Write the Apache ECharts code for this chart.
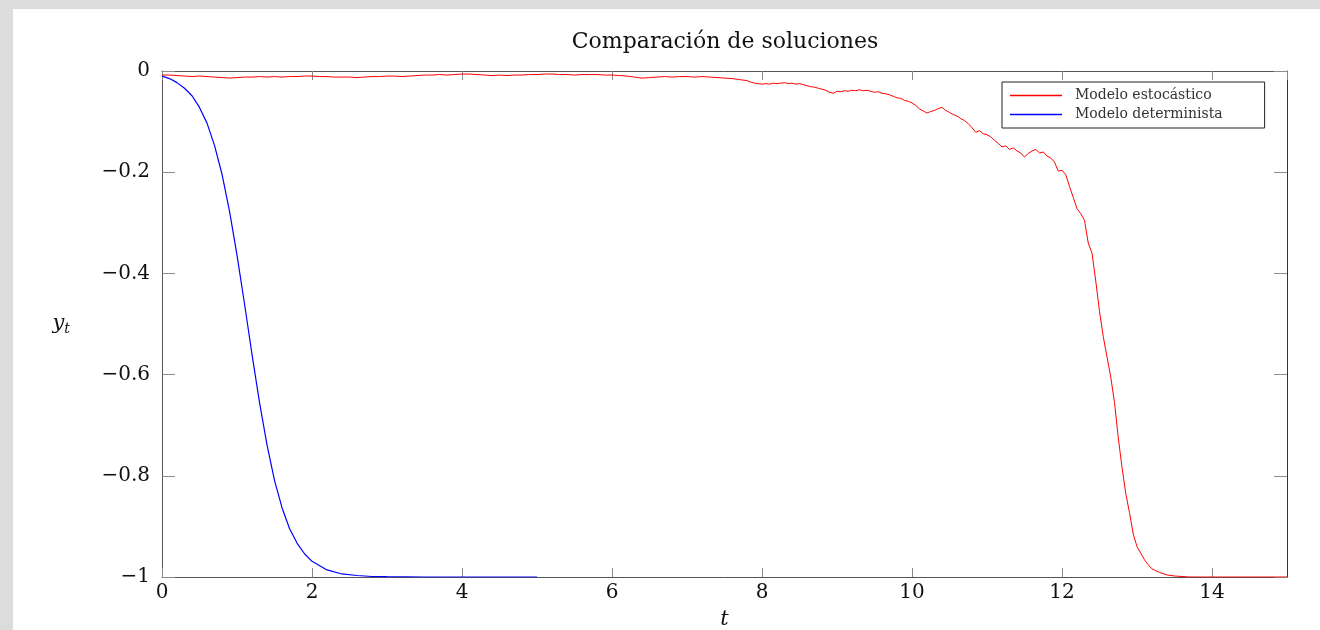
<!DOCTYPE html>
<html>
<head>
<meta charset="utf-8">
<script src="https://cdn.jsdelivr.net/npm/echarts@6/dist/echarts.min.js"></script>
<style>
html,body{margin:0;padding:0;background:#dcdcdc;}
#c{width:1320px;height:630px;}
</style>
</head>
<body>
<div id="c"></div>
<script>
// ---- data ----
var titleText = 'Comparación de soluciones';
var seriesNames = ['Modelo estocástico', 'Modelo determinista'];
var xTicks = [0, 2, 4, 6, 8, 10, 12, 14];
var yTicks = [-1, -0.8, -0.6, -0.4, -0.2, 0];

// stochastic model: [t, y]
var stochT = [0,0.1,0.2,0.3,0.4,0.5,0.6,0.7,0.8,0.9,1.0,1.1,1.2,1.3,1.4,1.5,1.6,1.7,1.8,1.9,2.0,2.1,2.2,2.3,2.4,2.5,2.6,2.7,2.8,2.9,3.0,3.1,3.2,3.3,3.4,3.5,3.6,3.7,3.8,3.9,4.0,4.1,4.2,4.3,4.4,4.5,4.6,4.7,4.8,4.9,5.0,5.1,5.2,5.3,5.4,5.5,5.6,5.7,5.8,5.9,6.0,6.1,6.2,6.3,6.4,6.5,6.6,6.7,6.8,6.9,7.0,7.1,7.2,7.3,7.4,7.5,7.6,7.7,7.8,7.85,7.9,7.95,8.0,8.05,8.1,8.15,8.2,8.25,8.3,8.35,8.4,8.45,8.5,8.55,8.6,8.65,8.7,8.75,8.8,8.85,8.9,8.95,9.0,9.05,9.1,9.15,9.2,9.25,9.3,9.35,9.4,9.45,9.5,9.55,9.6,9.65,9.7,9.75,9.8,9.85,9.9,9.95,10.0,10.05,10.1,10.15,10.2,10.25,10.3,10.35,10.4,10.45,10.5,10.55,10.6,10.65,10.7,10.75,10.8,10.85,10.9,10.95,11.0,11.05,11.1,11.15,11.2,11.25,11.3,11.35,11.4,11.45,11.5,11.55,11.6,11.65,11.7,11.75,11.8,11.85,11.9,11.95,12.0,12.05,12.1,12.15,12.2,12.25,12.3,12.35,12.4,12.45,12.5,12.55,12.6,12.65,12.7,12.75,12.8,12.85,12.9,12.95,13.0,13.05,13.1,13.15,13.2,13.3,13.4,13.5,13.7,14.0,14.5,15.0];
var stochY = [-0.008,-0.008,-0.009,-0.010,-0.011,-0.010,-0.011,-0.012,-0.013,-0.014,-0.013,-0.012,-0.012,-0.011,-0.012,-0.011,-0.012,-0.011,-0.011,-0.010,-0.010,-0.011,-0.011,-0.012,-0.012,-0.012,-0.013,-0.012,-0.011,-0.011,-0.010,-0.010,-0.011,-0.010,-0.009,-0.008,-0.008,-0.007,-0.008,-0.007,-0.006,-0.006,-0.007,-0.008,-0.009,-0.008,-0.009,-0.008,-0.008,-0.007,-0.007,-0.006,-0.006,-0.007,-0.007,-0.008,-0.007,-0.007,-0.007,-0.008,-0.008,-0.009,-0.010,-0.012,-0.014,-0.013,-0.012,-0.011,-0.012,-0.011,-0.011,-0.012,-0.011,-0.012,-0.013,-0.014,-0.015,-0.017,-0.019,-0.022,-0.024,-0.025,-0.026,-0.025,-0.026,-0.024,-0.025,-0.024,-0.023,-0.025,-0.024,-0.026,-0.025,-0.027,-0.029,-0.031,-0.032,-0.034,-0.036,-0.038,-0.042,-0.044,-0.040,-0.041,-0.039,-0.040,-0.038,-0.039,-0.037,-0.039,-0.038,-0.040,-0.042,-0.041,-0.044,-0.045,-0.047,-0.050,-0.053,-0.054,-0.058,-0.060,-0.063,-0.068,-0.075,-0.079,-0.083,-0.080,-0.078,-0.074,-0.072,-0.078,-0.082,-0.086,-0.089,-0.094,-0.098,-0.104,-0.112,-0.121,-0.118,-0.124,-0.126,-0.130,-0.137,-0.143,-0.150,-0.148,-0.155,-0.152,-0.158,-0.162,-0.170,-0.163,-0.158,-0.155,-0.162,-0.160,-0.168,-0.172,-0.180,-0.198,-0.196,-0.205,-0.228,-0.250,-0.272,-0.282,-0.295,-0.340,-0.360,-0.415,-0.475,-0.525,-0.565,-0.605,-0.655,-0.725,-0.783,-0.835,-0.873,-0.915,-0.940,-0.953,-0.966,-0.976,-0.984,-0.991,-0.996,-0.998,-1.0,-1.0,-1.0,-1.0];

// deterministic model: [t, y]
var detT = [0,0.1,0.2,0.3,0.4,0.5,0.6,0.7,0.8,0.9,1.0,1.1,1.2,1.3,1.4,1.5,1.6,1.7,1.8,1.9,2.0,2.2,2.4,2.6,2.8,3.0,3.5,4.0,4.5,5.0];
var detY = [-0.010,-0.015,-0.023,-0.034,-0.049,-0.072,-0.103,-0.147,-0.204,-0.277,-0.364,-0.460,-0.560,-0.655,-0.739,-0.809,-0.863,-0.904,-0.933,-0.954,-0.969,-0.986,-0.994,-0.997,-0.999,-0.9994,-1.0,-1.0,-1.0,-1.0];

function zip(a, b) { var r = []; for (var i = 0; i < a.length; i++) r.push([a[i], b[i]]); return r; }

var serif = 'DejaVu Serif';
function yFmt(v) {
  var r = Math.round(v * 10) / 10;
  if (r === 0) return '0';
  return '\u2212' + Math.abs(r);
}

var chart = echarts.init(document.getElementById('c'), null, {renderer: 'canvas'});
var axisColor = '#555';
var tickColor = '#8a8a8a';
chart.setOption({
  backgroundColor: '#dcdcdc',
  animation: false,
  graphic: [{
    type: 'rect', z: -10, silent: true,
    shape: {x: 13, y: 9, width: 1307, height: 621},
    style: {fill: '#ffffff'}
  }],
  title: {
    text: titleText,
    left: 720, top: 26, textAlign: 'center',
    textStyle: {fontFamily: serif, fontWeight: 'normal', fontSize: 22, color: '#111'}
  },
  legend: {
    orient: 'vertical',
    left: 1002, top: 82,
    padding: [6, 42, 6, 8],
    itemGap: 4,
    itemWidth: 52, itemHeight: 1.5,
    icon: 'rect',
    backgroundColor: '#fff',
    borderColor: '#222', borderWidth: 1, borderRadius: 0,
    textStyle: {fontFamily: serif, fontSize: 14, color: '#333', padding: [0, 0, 0, 8], lineHeight: 15},
    data: seriesNames
  },
  grid: {left: 162, right: 33, top: 71, bottom: 53, show: false, outerBoundsMode: 'none', containLabel: false},
  xAxis: [{
    type: 'value', min: 0, max: 15, interval: 2, position: 'bottom',
    name: 't', nameLocation: 'middle', nameGap: 32,
    nameTextStyle: {fontFamily: serif, fontStyle: 'italic', fontSize: 21, color: '#111'},
    axisLine: {show: true, onZero: false, lineStyle: {color: axisColor, width: 1}},
    axisTick: {show: true, inside: true, length: 9, lineStyle: {color: tickColor}},
    axisLabel: {fontFamily: serif, fontSize: 20, color: '#111', margin: 6, showMaxLabel: false,
      formatter: function (v) { return xTicks.indexOf(v) >= 0 ? String(v) : ''; }},
    splitLine: {show: false}
  }, {
    type: 'value', min: 0, max: 15, interval: 2, position: 'top',
    axisLine: {show: true, onZero: false, lineStyle: {color: axisColor, width: 1}},
    axisTick: {show: true, inside: true, length: 9, lineStyle: {color: tickColor}},
    axisLabel: {show: false},
    splitLine: {show: false}
  }],
  yAxis: [{
    type: 'value', min: yTicks[0], max: yTicks[yTicks.length - 1], interval: 0.2, position: 'left',
    name: '{i|y}{s|t}', nameLocation: 'middle', nameGap: 92, nameRotate: 0,
    nameTextStyle: {
      rich: {
        i: {fontFamily: serif, fontStyle: 'italic', fontSize: 21, color: '#111'},
        s: {fontFamily: serif, fontStyle: 'italic', fontSize: 14, color: '#111', padding: [10, 0, 0, 0]}
      }
    },
    axisLine: {show: true, onZero: false, lineStyle: {color: axisColor, width: 1}},
    axisTick: {show: true, inside: true, length: 13, lineStyle: {color: tickColor}},
    axisLabel: {fontFamily: serif, fontSize: 20, color: '#111', margin: 12, formatter: yFmt},
    splitLine: {show: false}
  }, {
    type: 'value', min: yTicks[0], max: yTicks[yTicks.length - 1], interval: 0.2, position: 'right',
    axisLine: {show: true, onZero: false, lineStyle: {color: '#333', width: 1}},
    axisTick: {show: true, inside: true, length: 13, lineStyle: {color: tickColor}},
    axisLabel: {show: false},
    splitLine: {show: false}
  }],
  series: [{
    name: seriesNames[0], type: 'line', xAxisIndex: 0, yAxisIndex: 0,
    data: zip(stochT, stochY), showSymbol: false, symbol: 'none',
    lineStyle: {color: '#ff0000', width: 1}, itemStyle: {color: '#ff0000'}, z: 3
  }, {
    name: seriesNames[1], type: 'line', xAxisIndex: 0, yAxisIndex: 0,
    data: zip(detT, detY), showSymbol: false, symbol: 'none', smooth: false,
    lineStyle: {color: '#0000ff', width: 1.2}, itemStyle: {color: '#0000ff'}, z: 2
  }]
});
</script>
</body>
</html>
